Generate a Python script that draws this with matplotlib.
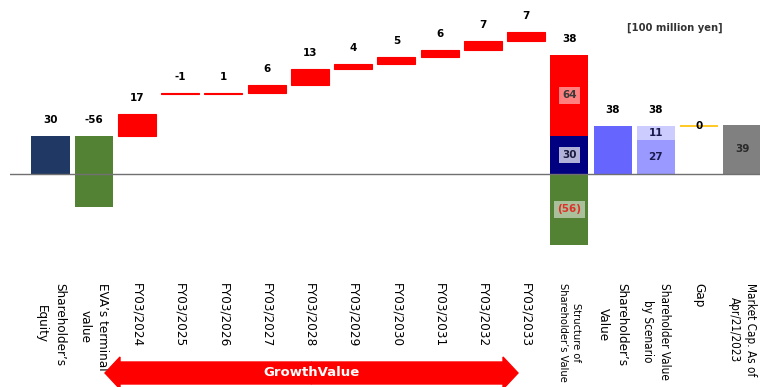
import numpy as np
import matplotlib
matplotlib.use("Agg")
import matplotlib.pyplot as plt
from matplotlib.patches import FancyArrow

# values in 100 million yen
labels = ["Shareholder\u2019s\nEquity", "EVA\u2019s terminal\nvalue",
          "FY03/2024", "FY03/2025", "FY03/2026", "FY03/2027", "FY03/2028",
          "FY03/2029", "FY03/2030", "FY03/2031", "FY03/2032", "FY03/2033",
          "Structure of\nShareholder\u2019s Value", "Shareholder\u2019s\nValue",
          "Shareholder Value\nby Scenario", "Gap", "Market Cap. As of\nApr/21/2023"]
equity = 30
eva_terminal = -56
growth = [17, -1, 1, 6, 13, 4, 5, 6, 7, 7]
growth_total = 64
shareholder_value = 38
scenario = [27, 11]
gap = 0
market_cap = 39

RED = "#ff0000"
W = 0.88

fig = plt.figure(figsize=(7.6, 3.87), dpi=100)
ax = fig.add_axes([10 / 760, 127 / 387, 750 / 760, 260 / 387])


def top_label(x, y, text):
    ax.annotate(text, (x, y), xytext=(0, 11.5), textcoords="offset points",
                ha="center", va="center", fontsize=7.5, fontweight="bold")


# starting blocks
ax.bar(0, equity, W, color="#1f3864")
top_label(0, equity, str(equity))
ax.bar(1, eva_terminal, W, bottom=equity, color="#548235")
top_label(1, equity, str(eva_terminal))

# growth waterfall
bases = equity + np.concatenate([[0], np.cumsum(growth[:-1])])
bases[1:] += growth[0]  # the source chart lifts FY03/2025 onward by the first step again
for k, (b, g) in enumerate(zip(bases, growth)):
    x = 2 + k
    ax.bar(x, g, W, bottom=b, color=RED, edgecolor=RED, linewidth=0.8)
    top_label(x, max(b, b + g), str(g))

# structure of shareholder's value
xs = 12
ax.bar(xs, equity, W, color="#000080")
ax.bar(xs, growth_total, W, bottom=equity, color=RED)
ax.bar(xs, eva_terminal, W, color="#548235")
top_label(xs, equity + growth_total, str(equity + growth_total + eva_terminal))
ax.text(xs, equity + growth_total / 2, str(growth_total), ha="center", va="center",
        fontsize=7.5, fontweight="bold", color="#3a3a3a",
        bbox=dict(facecolor="white", alpha=0.5, edgecolor="none", pad=2.5))
ax.text(xs, equity / 2, str(equity), ha="center", va="center",
        fontsize=7.5, fontweight="bold", color="#1a1a40",
        bbox=dict(facecolor="white", alpha=0.7, edgecolor="none", pad=2.5))
ax.text(xs, eva_terminal / 2, f"({-eva_terminal})", ha="center", va="center",
        fontsize=7.5, fontweight="bold", color="#e0302a",
        bbox=dict(facecolor="white", alpha=0.5, edgecolor="none", pad=2.5))

# shareholder's value
ax.bar(13, shareholder_value, W, color="#6666ff")
top_label(13, shareholder_value, str(shareholder_value))

# by scenario
ax.bar(14, scenario[0], W, color="#9999ff")
ax.bar(14, scenario[1], W, bottom=scenario[0], color="#ccccff")
top_label(14, sum(scenario), str(sum(scenario)))
ax.text(14, scenario[0] / 2, str(scenario[0]), ha="center", va="center",
        fontsize=7.5, fontweight="bold", color="#1a1a50")
ax.text(14, scenario[0] + scenario[1] / 2, str(scenario[1]), ha="center", va="center",
        fontsize=7.5, fontweight="bold", color="#1a1a50")

# gap
ax.bar(15, gap, W, bottom=shareholder_value, color="#ffc000",
       edgecolor="#ffc000", linewidth=1.2)
ax.text(15, shareholder_value + gap, str(gap), ha="center", va="center",
        fontsize=7.5, fontweight="bold")

# market cap
ax.bar(16, market_cap, W, color="#808080")
ax.text(16, market_cap / 2, str(market_cap), ha="center", va="center",
        fontsize=7.5, fontweight="bold", color="#2a2a2a")

ax.axhline(0, color="#707070", lw=1)
ax.set_xlim(-0.937, 16.41)
ax.set_ylim(-67.9, 137.3)
ax.set_xticks(range(len(labels)))
ax.set_xticklabels(labels, rotation=270, ha="center", va="top",
                   fontsize=9.6, fontstretch="condensed", linespacing=1.5,
                   multialignment="center")
for t in ax.get_xticklabels():
    longest = len(max(t.get_text().split("\n"), key=len))
    if longest > 15:
        t.set_fontsize(8.4 if longest < 19 else 7.9)
        t.set_linespacing(1.35)
ax.tick_params(axis="x", length=0, pad=16.5)
ax.set_yticks([])
for s in ax.spines.values():
    s.set_visible(False)

fig.text(675 / 760, 1 - 28 / 387, "[100 million yen]", ha="center", va="center",
         fontsize=7.2, fontweight="bold", color="#333333")

# GrowthValue double arrow (inches)
tr = fig.dpi_scale_trans
yc = (387 - 373) / 100
mid = 3.115
for dx in (1.05 - mid, 5.18 - mid):
    fig.patches.append(FancyArrow(mid, yc, dx, 0, width=0.22, head_width=0.32,
                                  head_length=0.15, length_includes_head=True,
                                  color=RED, transform=tr, figure=fig))
fig.text(mid, yc, "GrowthValue", transform=tr, ha="center", va="center",
         fontsize=9.5, fontweight="bold", color="white")

fig.savefig("out.png", dpi=100)
